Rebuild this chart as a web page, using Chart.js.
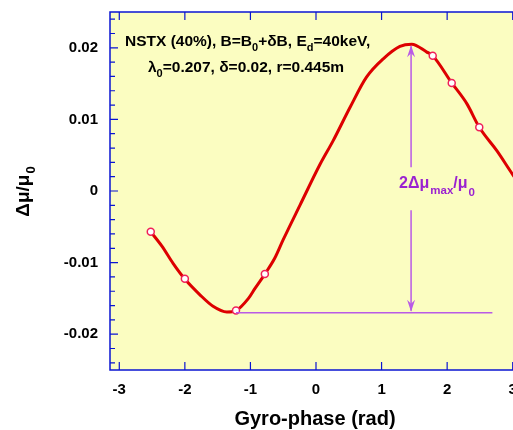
<!DOCTYPE html>
<html>
<head>
<meta charset="utf-8">
<script src="https://cdn.jsdelivr.net/npm/chart.js@4.4.0/dist/chart.umd.min.js"></script>
<style>
  html, body { margin: 0; padding: 0; background: #fff; overflow: hidden; }
  #wrap { width: 540px; height: 430px; }
</style>
</head>
<body>
<div id="wrap"><canvas id="chart" width="540" height="430"></canvas></div>
<script>
// data
const phase = [-2.52, -2.35, -2.18, -2.0, -1.77, -1.57, -1.36, -1.22, -1.03, -0.93, -0.78, -0.63, -0.50, -0.24, 0.06, 0.26, 0.52, 0.77, 1.03, 1.28, 1.46, 1.69, 1.78, 2.07, 2.30, 2.49, 2.76, 3.0, 3.14];
const dmu = [-0.0057, -0.0077, -0.0101, -0.0123, -0.0145, -0.0161, -0.0169, -0.0167, -0.0150, -0.0136, -0.0116, -0.0094, -0.0068, -0.0019, 0.0037, 0.0070, 0.0117, 0.0159, 0.0185, 0.0202, 0.0205, 0.0194, 0.0189, 0.0151, 0.0122, 0.0089, 0.0056, 0.0023, 0.0005];
const markPhase = [-2.52, -2.0, -1.22, -0.78, 1.78, 2.07, 2.49];
const markDmu = [-0.0057, -0.01225, -0.0167, -0.0116, 0.0189, 0.0151, 0.0089];
const xTicks = [-3, -2, -1, 0, 1, 2, 3];
const yTicks = [-0.02, -0.01, 0, 0.01, 0.02];

// annotation: 2 dmu_max / mu0
const arrowPhase = 1.45;
const dmuMax = 0.0205;
const dmuMin = -0.0170;
const baseLine = [-1.22, 2.69];

const BLUE = '#0a14d2';
const PURPLE = '#b95ae6';
const FONT = '"Liberation Sans", Arial, Helvetica, sans-serif';

// frame, ticks, texts
const decor = {
  id: 'decor',
  beforeDatasetsDraw(chart) {
    const { ctx, chartArea: a } = chart;
    ctx.save();
    ctx.fillStyle = '#fbfdc1';
    ctx.fillRect(a.left, a.top, a.right - a.left, a.bottom - a.top);
    ctx.restore();
  },
  afterDatasetsDraw(chart) {
    const { ctx, chartArea: a, scales } = chart;
    const xs = scales.x, ys = scales.y;
    ctx.save();

    // annotation lines
    ctx.strokeStyle = PURPLE;
    ctx.fillStyle = PURPLE;
    ctx.lineWidth = 1.5;
    const ax = xs.getPixelForValue(arrowPhase);
    const yTop = ys.getPixelForValue(dmuMax);
    const yBot = ys.getPixelForValue(dmuMin);
    ctx.beginPath();
    ctx.moveTo(xs.getPixelForValue(baseLine[0]), yBot);
    ctx.lineTo(xs.getPixelForValue(baseLine[1]), yBot);
    ctx.moveTo(ax, yTop + 2);
    ctx.lineTo(ax, ys.getPixelForValue(0.0033));
    ctx.moveTo(ax, ys.getPixelForValue(-0.0027));
    ctx.lineTo(ax, yBot - 2);
    ctx.stroke();
    // arrow heads
    ctx.beginPath();
    ctx.moveTo(ax, yTop + 1);
    ctx.lineTo(ax - 4, yTop + 13);
    ctx.lineTo(ax, yTop + 9);
    ctx.lineTo(ax + 4, yTop + 13);
    ctx.closePath();
    ctx.fill();
    ctx.beginPath();
    ctx.moveTo(ax, yBot - 1);
    ctx.lineTo(ax - 4, yBot - 13);
    ctx.lineTo(ax, yBot - 9);
    ctx.lineTo(ax + 4, yBot - 13);
    ctx.closePath();
    ctx.fill();

    // annotation label
    ctx.fillStyle = '#9a22d0';
    ctx.textBaseline = 'alphabetic';
    ctx.textAlign = 'left';
    let tx = ax - 12, ty = ys.getPixelForValue(0) - 3;
    ctx.font = 'bold 16px ' + FONT;
    ctx.fillText('2Δμ', tx, ty);
    tx += ctx.measureText('2Δμ').width + 1;
    ctx.font = 'bold 11.5px ' + FONT;
    ctx.fillText('max', tx, ty + 6);
    tx += ctx.measureText('max').width;
    ctx.font = 'bold 16px ' + FONT;
    ctx.fillText('/μ', tx, ty);
    tx += ctx.measureText('/μ').width + 1;
    ctx.font = 'bold 11.5px ' + FONT;
    ctx.fillText('0', tx, ty + 8);

    // frame
    ctx.strokeStyle = BLUE;
    ctx.lineWidth = 1.5;
    ctx.strokeRect(a.left, a.top, a.right - a.left, a.bottom - a.top);
    ctx.lineWidth = 1.2;
    ctx.beginPath();
    xTicks.forEach(v => {
      const px = xs.getPixelForValue(v);
      ctx.moveTo(px, a.bottom); ctx.lineTo(px, a.bottom - 8);
      ctx.moveTo(px, a.top); ctx.lineTo(px, a.top + 8);
    });
    for (let i = -12; i <= 12; i++) {
      const v = i * 0.002;
      const py = ys.getPixelForValue(v);
      const len = (i % 5 === 0) ? 8 : 5;
      ctx.moveTo(a.left, py); ctx.lineTo(a.left + len, py);
      ctx.moveTo(a.right, py); ctx.lineTo(a.right - len, py);
    }
    ctx.stroke();

    // header text
    ctx.fillStyle = '#000';
    const parts1 = [['NSTX (40%), B=B', 0], ['0', 1], ['+δB, E', 0], ['d', 1], ['=40keV,', 0]];
    const parts2 = [['λ', 0], ['0', 1], ['=0.207, δ=0.02, r=0.445m', 0]];
    const drawParts = (parts, x, y) => {
      parts.forEach(([t, sub]) => {
        ctx.font = sub ? 'bold 11px ' + FONT : 'bold 15.5px ' + FONT;
        ctx.fillText(t, x, sub ? y + 5 : y);
        x += ctx.measureText(t).width;
      });
    };
    drawParts(parts1, 125, 46);
    drawParts(parts2, 148, 72);

    // axis titles
    ctx.font = 'bold 20px ' + FONT;
    ctx.textAlign = 'center';
    ctx.fillText('Gyro-phase (rad)', 315, 425);

    ctx.translate(29, 192);
    ctx.rotate(-Math.PI / 2);
    ctx.textAlign = 'left';
    ctx.font = 'bold 19px ' + FONT;
    const w1 = ctx.measureText('Δμ/μ').width;
    ctx.font = 'bold 13px ' + FONT;
    const w2 = ctx.measureText('0').width;
    const sx = -(w1 + w2) / 2;
    ctx.font = 'bold 19px ' + FONT;
    ctx.fillText('Δμ/μ', sx, 0);
    ctx.font = 'bold 13px ' + FONT;
    ctx.fillText('0', sx + w1 + 1, 6);
    ctx.restore();
  }
};

new Chart(document.getElementById('chart'), {
  type: 'scatter',
  data: {
    datasets: [
      {
        data: markPhase.map((x, i) => ({ x, y: markDmu[i] })),
        pointRadius: 3.5,
        pointBackgroundColor: '#ffffff',
        pointBorderColor: '#f0205a',
        pointBorderWidth: 1.5,
        showLine: false,
        order: 0
      },
      {
        data: phase.map((x, i) => ({ x, y: dmu[i] })),
        showLine: true,
        borderColor: '#dd0000',
        borderWidth: 3,
        pointRadius: 0,
        tension: 0,
        cubicInterpolationMode: 'monotone',
        order: 1
      }
    ]
  },
  options: {
    responsive: false,
    animation: false,
    clip: false,
    layout: { padding: { top: 12, right: 18, left: 0, bottom: 0 } },
    plugins: { legend: { display: false }, tooltip: { enabled: false } },
    scales: {
      x: {
        type: 'linear',
        min: -Math.PI,
        max: Math.PI,
        afterBuildTicks: s => { s.ticks = xTicks.map(v => ({ value: v })); },
        afterFit: s => { s.height = 60; s.paddingLeft = 0; s.paddingRight = 0; },
        grid: { display: false, drawTicks: false },
        border: { display: false },
        ticks: {
          padding: 11,
          color: '#000',
          font: { family: FONT, size: 15, weight: 'bold' },
          callback: v => String(v)
        }
      },
      y: {
        type: 'linear',
        min: -0.025,
        max: 0.025,
        afterBuildTicks: s => { s.ticks = yTicks.map(v => ({ value: v })); },
        afterFit: s => { s.width = 110; s.paddingTop = 0; s.paddingBottom = 0; },
        grid: { display: false, drawTicks: false },
        border: { display: false },
        ticks: {
          padding: 12,
          color: '#000',
          font: { family: FONT, size: 15, weight: 'bold' },
          callback: v => (Math.abs(v) < 1e-9 ? '0' : String(Math.round(v * 100) / 100))
        }
      }
    }
  },
  plugins: [decor]
});
</script>
</body>
</html>
